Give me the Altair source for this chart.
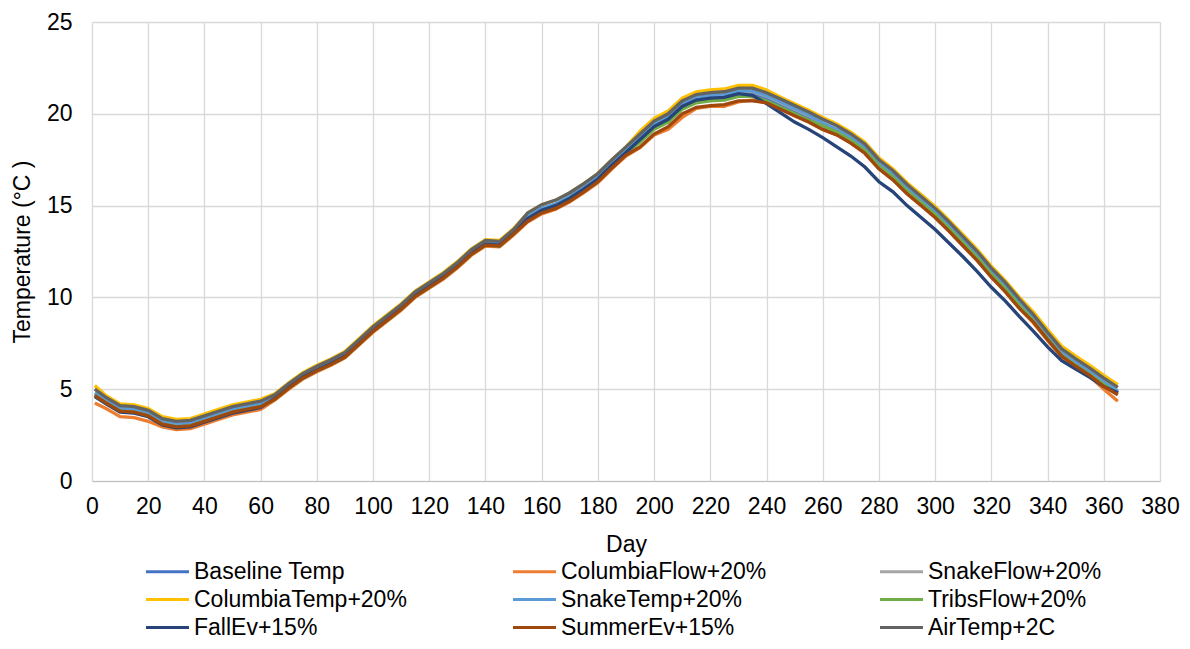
import altair as alt
import pandas as pd

days = [1, 5, 10, 15, 20, 25, 30, 35, 40, 45, 50, 55, 60, 65, 70, 75, 80, 85, 90, 95,
        100, 105, 110, 115, 120, 125, 130, 135, 140, 145, 150, 155, 160, 165, 170, 175,
        180, 185, 190, 195, 200, 205, 210, 215, 220, 225, 230, 235, 240, 245, 250, 255,
        260, 265, 270, 275, 280, 285, 290, 295, 300, 305, 310, 315, 320, 325, 330, 335,
        340, 345, 350, 355, 360, 365]

baseline_temp = [4.70, 4.30, 3.85, 3.80, 3.60, 3.15, 3.00, 3.05, 3.30, 3.55,
                 3.80, 3.95, 4.10, 4.50, 5.10, 5.65, 6.05, 6.40, 6.80, 7.50,
                 8.20, 8.80, 9.40, 10.10, 10.60, 11.10, 11.70, 12.40, 12.90, 12.85,
                 13.50, 14.30, 14.75, 15.00, 15.40, 15.90, 16.45, 17.20, 17.90, 18.60,
                 19.30, 19.70, 20.40, 20.75, 20.85, 20.90, 21.10, 21.10, 20.85, 20.50,
                 20.15, 19.80, 19.40, 19.05, 18.60, 18.05, 17.20, 16.60, 15.85, 15.20,
                 14.55, 13.80, 13.00, 12.20, 11.30, 10.50, 9.60, 8.75, 7.80, 6.90,
                 6.35, 5.85, 5.30, 4.80]

columbia_flow = [4.25, 3.95, 3.50, 3.45, 3.25, 2.95, 2.80, 2.85, 3.10, 3.35,
                 3.60, 3.75, 3.90, 4.40, 5.00, 5.55, 5.95, 6.30, 6.70, 7.40,
                 8.10, 8.70, 9.30, 10.00, 10.50, 11.00, 11.60, 12.30, 12.80, 12.75,
                 13.40, 14.10, 14.55, 14.80, 15.20, 15.70, 16.25, 17.00, 17.70, 18.15,
                 18.85, 19.15, 19.80, 20.30, 20.40, 20.40, 20.65, 20.75, 20.60, 20.25,
                 19.90, 19.55, 19.15, 18.85, 18.40, 17.85, 17.00, 16.40, 15.65, 15.00,
                 14.35, 13.60, 12.80, 12.00, 11.10, 10.30, 9.40, 8.60, 7.65, 6.75,
                 6.20, 5.70, 5.00, 4.35]

snake_flow = [4.75, 4.35, 3.90, 3.85, 3.65, 3.20, 3.05, 3.10, 3.35, 3.60,
              3.85, 4.00, 4.15, 4.55, 5.15, 5.70, 6.10, 6.45, 6.85, 7.55,
              8.25, 8.85, 9.45, 10.15, 10.65, 11.15, 11.75, 12.45, 12.95, 12.90,
              13.55, 14.35, 14.80, 15.05, 15.45, 15.95, 16.50, 17.25, 17.95, 18.70,
              19.40, 19.80, 20.50, 20.85, 20.95, 21.00, 21.20, 21.20, 20.95, 20.60,
              20.25, 19.90, 19.45, 19.10, 18.65, 18.10, 17.25, 16.65, 15.90, 15.25,
              14.60, 13.85, 13.05, 12.25, 11.35, 10.55, 9.65, 8.80, 7.85, 6.95,
              6.40, 5.90, 5.35, 4.85]

columbia_temp = [5.20, 4.65, 4.20, 4.15, 3.95, 3.50, 3.35, 3.40, 3.65, 3.90,
                 4.15, 4.30, 4.45, 4.75, 5.35, 5.90, 6.30, 6.65, 7.05, 7.75,
                 8.45, 9.05, 9.65, 10.35, 10.85, 11.35, 11.95, 12.65, 13.15, 13.10,
                 13.75, 14.60, 15.05, 15.30, 15.70, 16.20, 16.75, 17.50, 18.20, 19.05,
                 19.75, 20.15, 20.85, 21.20, 21.30, 21.35, 21.55, 21.55, 21.30, 20.90,
                 20.55, 20.20, 19.80, 19.45, 19.00, 18.45, 17.60, 17.00, 16.25, 15.60,
                 14.95, 14.20, 13.40, 12.60, 11.70, 10.90, 10.00, 9.20, 8.25, 7.35,
                 6.80, 6.30, 5.75, 5.25]

snake_temp = [4.80, 4.40, 3.95, 3.90, 3.70, 3.25, 3.10, 3.15, 3.40, 3.65,
              3.90, 4.05, 4.20, 4.60, 5.20, 5.75, 6.15, 6.50, 6.90, 7.60,
              8.30, 8.90, 9.50, 10.20, 10.70, 11.20, 11.80, 12.50, 13.00, 12.95,
              13.60, 14.40, 14.85, 15.10, 15.50, 16.00, 16.55, 17.30, 18.00, 18.75,
              19.45, 19.85, 20.55, 20.90, 21.00, 21.05, 21.25, 21.25, 21.00, 20.65,
              20.30, 19.95, 19.50, 19.15, 18.70, 18.15, 17.30, 16.70, 15.95, 15.30,
              14.65, 13.90, 13.10, 12.30, 11.40, 10.60, 9.70, 8.85, 7.90, 7.00,
              6.45, 5.95, 5.40, 4.90]

tribs_flow = [4.65, 4.25, 3.80, 3.75, 3.55, 3.10, 2.95, 3.00, 3.25, 3.50,
              3.75, 3.90, 4.05, 4.45, 5.05, 5.60, 6.00, 6.35, 6.75, 7.45,
              8.15, 8.75, 9.35, 10.05, 10.55, 11.05, 11.65, 12.35, 12.85, 12.80,
              13.45, 14.25, 14.70, 14.95, 15.35, 15.85, 16.40, 17.15, 17.85, 18.45,
              19.15, 19.55, 20.25, 20.60, 20.70, 20.75, 20.95, 20.95, 20.70, 20.35,
              20.00, 19.65, 19.35, 19.00, 18.55, 18.00, 17.15, 16.55, 15.80, 15.15,
              14.50, 13.75, 12.95, 12.15, 11.25, 10.45, 9.55, 8.70, 7.75, 6.85,
              6.30, 5.80, 5.25, 4.75]

fall_ev = [4.60, 4.20, 3.75, 3.70, 3.50, 3.05, 2.90, 2.95, 3.20, 3.45,
           3.70, 3.85, 4.00, 4.50, 5.10, 5.65, 6.05, 6.40, 6.80, 7.50,
           8.20, 8.80, 9.40, 10.10, 10.60, 11.10, 11.70, 12.40, 12.90, 12.85,
           13.50, 14.30, 14.75, 15.00, 15.40, 15.90, 16.45, 17.20, 17.90, 18.60,
           19.30, 19.70, 20.40, 20.75, 20.85, 20.90, 21.10, 21.00, 20.55, 20.05,
           19.55, 19.15, 18.70, 18.20, 17.70, 17.10, 16.30, 15.75, 15.00, 14.35,
           13.70, 12.95, 12.20, 11.40, 10.55, 9.80, 8.95, 8.15, 7.30, 6.55,
           6.10, 5.65, 5.15, 4.80]

summer_ev = [4.65, 4.25, 3.80, 3.75, 3.55, 3.10, 2.95, 3.00, 3.25, 3.50,
             3.75, 3.90, 4.05, 4.45, 5.05, 5.60, 6.00, 6.35, 6.75, 7.45,
             8.15, 8.75, 9.35, 10.05, 10.55, 11.05, 11.65, 12.35, 12.85, 12.80,
             13.45, 14.15, 14.60, 14.85, 15.25, 15.75, 16.30, 17.05, 17.75, 18.20,
             18.90, 19.30, 20.00, 20.35, 20.45, 20.50, 20.70, 20.70, 20.60, 20.25,
             19.90, 19.55, 19.15, 18.85, 18.40, 17.85, 17.00, 16.40, 15.65, 15.00,
             14.35, 13.60, 12.80, 12.00, 11.10, 10.30, 9.40, 8.65, 7.70, 6.80,
             6.25, 5.75, 5.15, 4.70]

air_temp = [5.00, 4.55, 4.10, 4.05, 3.85, 3.40, 3.25, 3.30, 3.55, 3.80,
            4.05, 4.20, 4.35, 4.70, 5.30, 5.85, 6.25, 6.60, 7.00, 7.70,
            8.40, 9.00, 9.60, 10.30, 10.80, 11.30, 11.90, 12.60, 13.10, 13.05,
            13.70, 14.60, 15.05, 15.30, 15.70, 16.20, 16.75, 17.50, 18.20, 18.90,
            19.60, 20.00, 20.70, 21.05, 21.15, 21.20, 21.40, 21.40, 21.15, 20.80,
            20.45, 20.10, 19.70, 19.35, 18.90, 18.35, 17.50, 16.90, 16.15, 15.50,
            14.85, 14.10, 13.30, 12.50, 11.60, 10.80, 9.90, 9.05, 8.10, 7.20,
            6.65, 6.15, 5.60, 5.10]

series_names = ["Baseline Temp", "ColumbiaFlow+20%", "SnakeFlow+20%",
                "ColumbiaTemp+20%", "SnakeTemp+20%", "TribsFlow+20%",
                "FallEv+15%", "SummerEv+15%", "AirTemp+2C"]
series_values = [baseline_temp, columbia_flow, snake_flow,
                 columbia_temp, snake_temp, tribs_flow,
                 fall_ev, summer_ev, air_temp]
series_colors = ["#4472C4", "#ED7D31", "#A5A5A5",
                 "#FFC000", "#5B9BD5", "#70AD47",
                 "#264478", "#9E480E", "#636363"]

x_ticks = list(range(0, 381, 20))
y_ticks = [0, 5, 10, 15, 20, 25]

rows = []
for i, (name, vals) in enumerate(zip(series_names, series_values)):
    for d, v in zip(days, vals):
        rows.append({"day": d, "temp": v, "series": name, "k": i})
df = pd.DataFrame(rows)

FONT = "Liberation Sans"
FS = 23

chart = alt.Chart(df).mark_line(strokeWidth=3.3).encode(
    x=alt.X("day:Q",
            scale=alt.Scale(domain=[0, 380], nice=False, zero=False),
            axis=alt.Axis(values=x_ticks, title="Day", grid=True, ticks=False,
                          tickSize=0, labelPadding=14, titlePadding=15,
                          domainColor="#BFBFBF", labelFlush=False)),
    y=alt.Y("temp:Q",
            scale=alt.Scale(domain=[0, 25], nice=False),
            axis=alt.Axis(values=y_ticks, title="Temperature (°C )", grid=True,
                          ticks=False, tickSize=0, labelPadding=20, titlePadding=12,
                          domain=False)),
    color=alt.Color("series:N",
                    scale=alt.Scale(domain=series_names, range=series_colors),
                    sort=series_names,
                    legend=alt.Legend(orient="none", legendX=63, legendY=537,
                                      direction="horizontal",
                                      columns=3, title=None,
                                      symbolType="M-2,0H2",
                                      symbolSize=462, symbolStrokeWidth=3,
                                      symbolFillColor="transparent",
                                      labelFontSize=FS, labelFont=FONT,
                                      labelColor="#000000", labelLimit=400,
                                      columnPadding=100, rowPadding=3,
                                      gridAlign="all", labelOffset=14)),
    detail="k:O",
).properties(
    width=1068, height=459,
    autosize=alt.AutoSizeParams(type="none"),
    padding={"left": 84, "top": 14, "right": 22, "bottom": 160},
).configure_view(
    strokeWidth=0
).configure_axis(
    gridColor="#D9D9D9", gridWidth=1.3,
    labelFont=FONT, titleFont=FONT,
    labelFontSize=FS, titleFontSize=FS,
    labelColor="#000000", titleColor="#000000",
    titleFontWeight="normal"
)

chart.save("out.html", embed_options={"renderer": "svg", "actions": False})
